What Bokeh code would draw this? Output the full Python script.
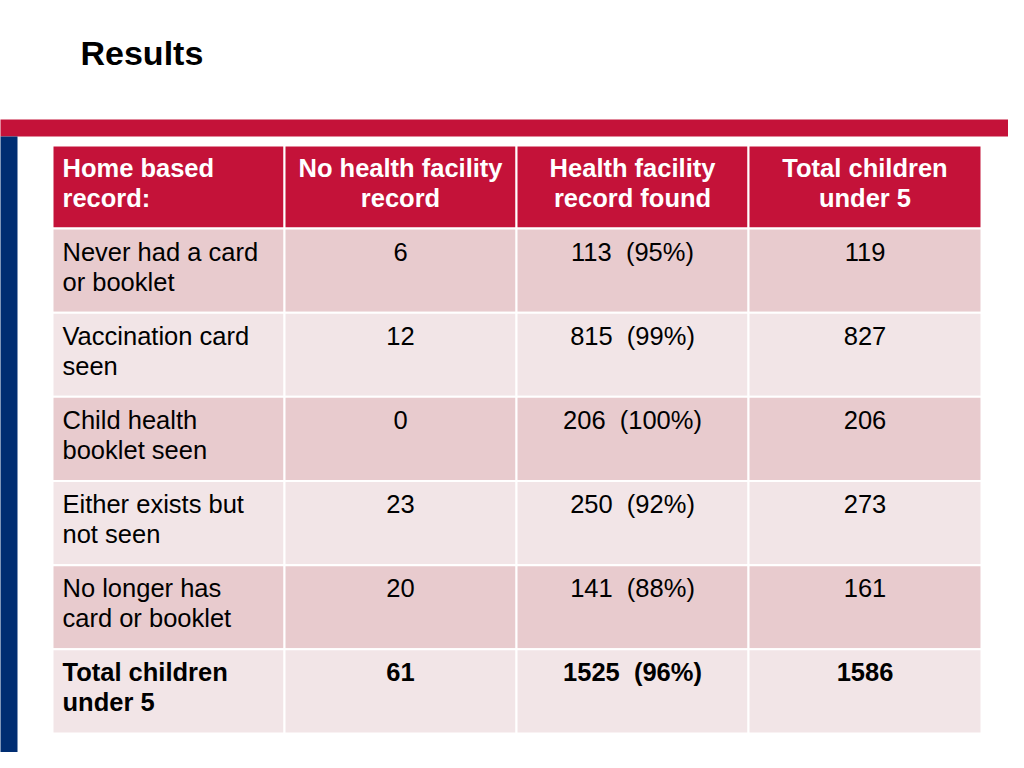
from bokeh.plotting import figure
from bokeh.models import Range1d, ColumnDataSource
from bokeh.core.properties import value
from bokeh.embed import file_html
from bokeh.resources import INLINE

title = "Results"
headers = [["Home based", "record:"], ["No health facility", "record"],
           ["Health facility", "record found"], ["Total children", "under 5"]]
row_labels = [["Never had a card", "or booklet"], ["Vaccination card", "seen"],
              ["Child health", "booklet seen"], ["Either exists but", "not seen"],
              ["No longer has", "card or booklet"], ["Total children", "under 5"]]
no_record = [6, 12, 0, 23, 20, 61]
found = [113, 815, 206, 250, 141, 1525]
found_pct = [95, 99, 100, 92, 88, 96]
total = [119, 827, 206, 273, 161, 1586]

RED = "#C41239"
NAVY = "#002D72"
PINK_A = "#E8CBCE"
PINK_B = "#F2E5E7"
FONT = "Liberation Sans"

W, H = 1008, 752
p = figure(width=W, height=H, output_backend="svg", toolbar_location=None,
           x_range=Range1d(0, W), y_range=Range1d(H, 0), min_border=0)
p.axis.visible = False
p.grid.visible = False
p.outline_line_color = None
p.background_fill_color = "white"
p.border_fill_color = "white"

# decorative bands
p.quad(left=[-5], right=[1030], top=[119], bottom=[136], fill_color=RED, line_color=None)
p.quad(left=[-5], right=[17], top=[136], bottom=[770], fill_color=NAVY, line_color=None)

p.text(x=[80], y=[52], text=[title], text_font=value(FONT), text_font_style="bold",
       text_font_size="34px", text_color="black", text_baseline="middle", text_align="left")

col_edges = [52, 284, 516, 748, 981]
header_top, header_bot = 145, 228
row_h = (733 - 228) / 6.0

# cells
L, R, T, B, C = [], [], [], [], []
for j in range(4):
    L.append(col_edges[j]); R.append(col_edges[j + 1]); T.append(header_top); B.append(header_bot); C.append(RED)
for i in range(len(row_labels)):
    for j in range(4):
        L.append(col_edges[j]); R.append(col_edges[j + 1])
        T.append(header_bot + i * row_h); B.append(header_bot + (i + 1) * row_h)
        C.append(PINK_A if i % 2 == 0 else PINK_B)
p.quad(source=ColumnDataSource(dict(l=L, r=R, t=T, b=B, c=C)), left="l", right="r",
       top="t", bottom="b", fill_color="c", line_color="white", line_width=2)

# header text
xs, ys, ts, al = [], [], [], []
for j, lines in enumerate(headers):
    for k, ln in enumerate(lines):
        if j == 0:
            xs.append(col_edges[0] + 10); al.append("left")
        else:
            xs.append((col_edges[j] + col_edges[j + 1]) / 2); al.append("center")
        ys.append(167 + 30 * k); ts.append(ln)
p.text(source=ColumnDataSource(dict(x=xs, y=ys, t=ts, a=al)), x="x", y="y", text="t",
       text_align="a", text_baseline="middle", text_font=value(FONT), text_font_style="bold",
       text_font_size="25.5px", text_color="white")

# body text
for i in range(len(row_labels)):
    style = "bold" if i == len(row_labels) - 1 else "normal"
    top = header_bot + i * row_h
    xs, ys, ts, al = [], [], [], []
    for k, ln in enumerate(row_labels[i]):
        xs.append(col_edges[0] + 10); ys.append(top + 23 + 30 * k); ts.append(ln); al.append("left")
    vals = [str(no_record[i]), "%d\u00a0\u00a0(%d%%)" % (found[i], found_pct[i]), str(total[i])]
    for j, v in enumerate(vals):
        xs.append((col_edges[j + 1] + col_edges[j + 2]) / 2); ys.append(top + 23); ts.append(v); al.append("center")
    p.text(source=ColumnDataSource(dict(x=xs, y=ys, t=ts, a=al)), x="x", y="y", text="t",
           text_align="a", text_baseline="middle", text_font=value(FONT), text_font_style=style,
           text_font_size="25.5px", text_color="black")

open("out.html", "w").write(file_html(p, INLINE))
